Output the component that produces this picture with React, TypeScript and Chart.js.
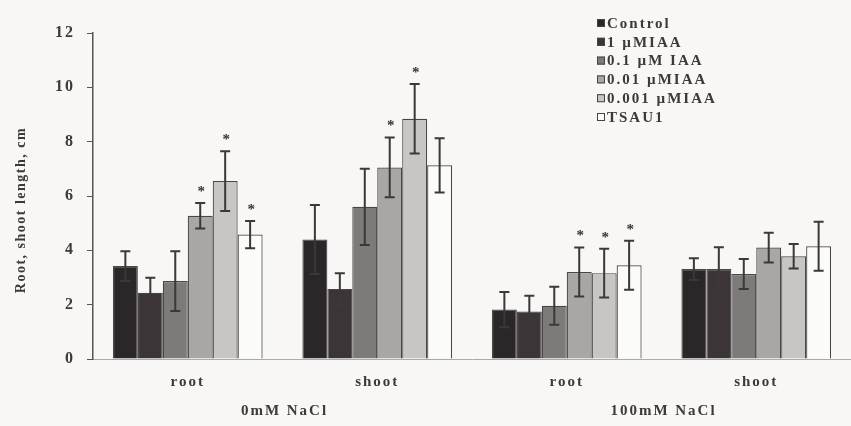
import React, { useEffect, useRef } from "react";
import { Chart, registerables } from "chart.js";

Chart.register(...registerables);

const categories = ["root", "shoot", "root", "shoot"];
const groupLabels = ["0mM NaCl", "100mM NaCl"];
const seriesNames = ["Control", "1 µMIAA", "0.1 µM IAA", "0.01 µMIAA", "0.001 µMIAA", "TSAU1"];

const controlVals = [3.42, 4.4, 1.82, 3.31];
const iaa1Vals = [2.44, 2.58, 1.75, 3.31];
const iaa01Vals = [2.87, 5.6, 1.96, 3.13];
const iaa001Vals = [5.27, 7.05, 3.2, 4.1];
const iaa0001Vals = [6.55, 8.84, 3.16, 3.78];
const tsau1Vals = [4.58, 7.13, 3.45, 4.15];

const controlErr = [0.55, 1.27, 0.65, 0.4];
const iaa1Err = [0.55, 0.58, 0.58, 0.8];
const iaa01Err = [1.1, 1.4, 0.7, 0.55];
const iaa001Err = [0.47, 1.1, 0.9, 0.55];
const iaa0001Err = [1.1, 1.28, 0.9, 0.45];
const tsau1Err = [0.5, 1.0, 0.9, 0.9];

const controlSig = [false, false, false, false];
const iaa1Sig = [false, false, false, false];
const iaa01Sig = [false, false, false, false];
const iaa001Sig = [true, true, true, false];
const iaa0001Sig = [true, true, true, false];
const tsau1Sig = [true, false, true, false];

const yTicks = [0, 2, 4, 6, 8, 10, 12];
const yTitle = "Root, shoot length, cm";

const allVals = [controlVals, iaa1Vals, iaa01Vals, iaa001Vals, iaa0001Vals, tsau1Vals];
const allErr = [controlErr, iaa1Err, iaa01Err, iaa001Err, iaa0001Err, tsau1Err];
const allSig = [controlSig, iaa1Sig, iaa01Sig, iaa001Sig, iaa0001Sig, tsau1Sig];
const fills = ["#2b2729", "#3b3537", "#7d7a7a", "#a9a6a5", "#c8c6c4", "#fbfbfa"];

const FONT = "'Liberation Serif', 'Times New Roman', serif";

export default function App() {
  const ref = useRef<HTMLCanvasElement | null>(null);
  useEffect(() => {
    if (!ref.current) return;
    const extras = {
      id: "extras",
      beforeDraw(chart: any) {
        const ctx = chart.ctx;
        ctx.save();
        ctx.fillStyle = "#f8f7f5";
        ctx.fillRect(0, 0, chart.width, chart.height);
        ctx.restore();
        (ctx as any).letterSpacing = "2px";
      },
      afterDatasetsDraw(chart: any) {
        const ctx = chart.ctx;
        const ys = chart.scales.y;
        const xs = chart.scales.x;
        ctx.save();
        chart.data.datasets.forEach((ds: any, di: number) => {
          const meta = chart.getDatasetMeta(di);
          meta.data.forEach((el: any, i: number) => {
            const v = allVals[di][i];
            const e = allErr[di][i];
            const x = el.x;
            const yt = ys.getPixelForValue(v + e);
            const yb = ys.getPixelForValue(v - e);
            ctx.strokeStyle = "#3a3838";
            ctx.lineWidth = 2;
            ctx.beginPath();
            ctx.moveTo(x, yt);
            ctx.lineTo(x, yb);
            ctx.moveTo(x - 5, yt);
            ctx.lineTo(x + 5, yt);
            ctx.moveTo(x - 5, yb);
            ctx.lineTo(x + 5, yb);
            ctx.stroke();
            if (allSig[di][i]) {
              ctx.fillStyle = "#333";
              ctx.font = `bold 15px ${FONT}`;
              ctx.textAlign = "center";
              ctx.textBaseline = "middle";
              (ctx as any).letterSpacing = "0px";
              ctx.fillText("*", x + 1, yt - 11);
            }
          });
        });
        // group labels
        ctx.fillStyle = "#3a3a3a";
        ctx.font = `bold 15px ${FONT}`;
        (ctx as any).letterSpacing = "2px";
        ctx.textAlign = "center";
        ctx.textBaseline = "middle";
        groupLabels.forEach((g, gi) => {
          const a = xs.getPixelForValue(gi * 2);
          const b = xs.getPixelForValue(gi * 2 + 1);
          ctx.fillText(g, (a + b) / 2 + 2, 411);
        });
        // y title
        ctx.save();
        ctx.translate(21, 210);
        ctx.rotate(-Math.PI / 2);
        ctx.font = `bold 14px ${FONT}`;
        (ctx as any).letterSpacing = "1.5px";
        ctx.fillText(yTitle, 0, 0);
        ctx.restore();
        // legend
        ctx.textAlign = "left";
        ctx.font = `bold 15px ${FONT}`;
        (ctx as any).letterSpacing = "2px";
        seriesNames.forEach((n, i) => {
          const y = 23 + i * 18.8;
          ctx.fillStyle = fills[i];
          ctx.fillRect(597, y - 4, 8, 8);
          ctx.strokeStyle = "#444";
          ctx.lineWidth = 1;
          ctx.strokeRect(597.5, y - 3.5, 7, 7);
          ctx.fillStyle = "#3a3a3a";
          ctx.fillText(n, 607, y + 1);
        });
        ctx.restore();
      },
    };
    const chart = new Chart(ref.current, {
      type: "bar",
      data: {
        labels: categories,
        datasets: seriesNames.map((n, i) => ({
          label: n,
          data: allVals[i],
          backgroundColor: fills[i],
          borderColor: "#4a4646",
          borderWidth: 1.2,
          barPercentage: 1,
          categoryPercentage: 0.79,
        })),
      },
      options: {
        responsive: false,
        animation: false,
        layout: { padding: { top: 33, left: 0, right: 0, bottom: 0 } },
        plugins: { legend: { display: false }, tooltip: { enabled: false }, title: { display: false } },
        scales: {
          x: {
            grid: { display: false },
            border: { display: true, color: "#aaa", width: 1 },
            ticks: { color: "#3a3a3a", font: { family: FONT, size: 15, weight: "bold" }, padding: 6 },
            afterFit(scale: any) {
              scale.height = 67;
            },
          },
          y: {
            min: 0,
            max: 12,
            afterBuildTicks(scale: any) {
              scale.ticks = yTicks.map((v) => ({ value: v }));
            },
            grid: { drawOnChartArea: false, drawTicks: true, tickLength: 6, color: "#555" },
            border: { display: true, color: "#555", width: 1.5 },
            ticks: { color: "#3a3a3a", font: { family: FONT, size: 16, weight: "bold" }, padding: 12 },
            afterFit(scale: any) {
              scale.width = 93;
            },
          },
        },
      },
      plugins: [extras],
    });
    return () => chart.destroy();
  }, []);
  return (
    <div style={{ position: "fixed", left: 0, top: 0, width: 851, height: 426, overflow: "hidden" }}>
      <canvas ref={ref} width={851} height={426} />
    </div>
  );
}
